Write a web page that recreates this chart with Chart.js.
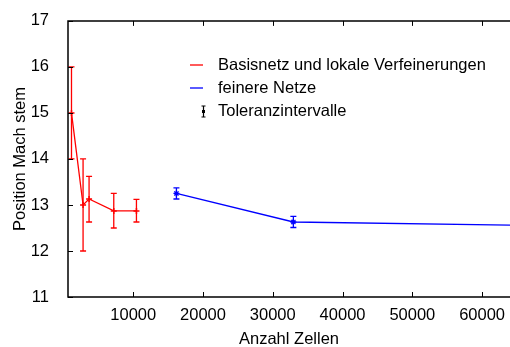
<!DOCTYPE html>
<html>
<head>
<meta charset="utf-8">
<script src="https://cdn.jsdelivr.net/npm/chart.js@4"></script>
<style>
  body { margin: 0; background: #fff; }
  canvas { display: block; }
</style>
</head>
<body>
<canvas id="zellenChart" width="510" height="347"></canvas>
<script>
// Basisnetz + lokale Verfeinerungen
const redCells = [1150, 2810, 3670, 7210, 10460];
const redPos = [15, 13, 13.13, 12.87, 12.87];
const redLo = [14, 12, 12.63, 12.5, 12.63];
const redHi = [16, 14, 13.62, 13.25, 13.12];

// feinere Netze (letzter Punkt ohne Intervall)
const blueCells = [16190, 32950, 64000];
const bluePos = [13.25, 12.63, 12.56];
const blueLo = [13.13, 12.51, null];
const blueHi = [13.37, 12.75, null];

const xTicks = [10000, 20000, 30000, 40000, 50000, 60000];
const yTicks = [11, 12, 13, 14, 15, 16, 17];

const legendItems = [
  { text: 'Basisnetz und lokale Verfeinerungen', color: '#ff0000', kind: 'line' },
  { text: 'feinere Netze', color: '#0000ff', kind: 'line' },
  { text: 'Toleranzintervalle', color: '#000000', kind: 'err' },
];

const FONT = '"Liberation Sans", Arial, sans-serif';
const FONT_SIZE = 16.5;

function toPoints(xs, ys) {
  return xs.map((x, i) => ({ x: x, y: ys[i] }));
}

// Fehlerbalken mit kleinen Kappen
const errorBars = {
  id: 'errorBars',
  afterDatasetsDraw(chart) {
    const { ctx, scales: { x, y } } = chart;
    ctx.save();
    chart.data.datasets.forEach((ds) => {
      if (!ds.errLo) return;
      ctx.strokeStyle = ds.borderColor;
      ctx.lineWidth = 1.3;
      ctx.beginPath();
      ds.data.forEach((p, j) => {
        if (ds.errLo[j] == null) return;
        const px = x.getPixelForValue(p.x);
        const top = y.getPixelForValue(ds.errHi[j]);
        const bot = y.getPixelForValue(ds.errLo[j]);
        ctx.moveTo(px, top);
        ctx.lineTo(px, bot);
        ctx.moveTo(px - 3, top);
        ctx.lineTo(px + 3, top);
        ctx.moveTo(px - 3, bot);
        ctx.lineTo(px + 3, bot);
      });
      ctx.stroke();
    });
    ctx.restore();
  },
};

// Rahmen oben/links/unten und nach innen zeigende Ticks
const frame = {
  id: 'frame',
  afterDraw(chart) {
    const { ctx, chartArea: a, scales: { x, y } } = chart;
    ctx.save();
    ctx.strokeStyle = '#000';
    ctx.lineWidth = 1.5;
    ctx.beginPath();
    ctx.moveTo(a.right, a.top);
    ctx.lineTo(a.left, a.top);
    ctx.lineTo(a.left, a.bottom);
    ctx.lineTo(a.right, a.bottom);
    ctx.stroke();

    ctx.lineWidth = 1;
    ctx.beginPath();
    x.ticks.forEach((t) => {
      const px = Math.round(x.getPixelForValue(t.value)) + 0.5;
      ctx.moveTo(px, a.bottom);
      ctx.lineTo(px, a.bottom - 5);
      ctx.moveTo(px, a.top);
      ctx.lineTo(px, a.top + 5);
    });
    y.ticks.forEach((t) => {
      const py = Math.round(y.getPixelForValue(t.value)) + 0.5;
      ctx.moveTo(a.left, py);
      ctx.lineTo(a.left + 5, py);
    });
    ctx.stroke();
    ctx.restore();
  },
};

// Legende innerhalb der Zeichenfläche
const plotLegend = {
  id: 'plotLegend',
  afterDraw(chart) {
    const { ctx } = chart;
    ctx.save();
    ctx.font = FONT_SIZE + 'px ' + FONT;
    ctx.textBaseline = 'middle';
    legendItems.forEach((item, i) => {
      const yy = 65 + i * 23;
      ctx.strokeStyle = item.color;
      ctx.fillStyle = item.color;
      ctx.beginPath();
      if (item.kind === 'line') {
        ctx.lineWidth = 1.3;
        ctx.moveTo(190, yy);
        ctx.lineTo(203, yy);
        ctx.stroke();
      } else {
        ctx.lineWidth = 1.2;
        ctx.moveTo(203.5, yy - 5);
        ctx.lineTo(203.5, yy + 6);
        ctx.moveTo(201.5, yy - 5);
        ctx.lineTo(205.5, yy - 5);
        ctx.moveTo(201.5, yy + 6);
        ctx.lineTo(205.5, yy + 6);
        ctx.stroke();
        ctx.fillRect(202, yy - 1, 3, 3);
      }
      ctx.fillStyle = '#000';
      ctx.fillText(item.text, 218, yy);
    });
    ctx.restore();
  },
};

new Chart('zellenChart', {
  type: 'line',
  data: {
    datasets: [
      {
        label: 'Basisnetz und lokale Verfeinerungen',
        data: toPoints(redCells, redPos),
        errLo: redLo,
        errHi: redHi,
        borderColor: '#ff0000',
        backgroundColor: '#ff0000',
        borderWidth: 1.3,
        pointStyle: 'cross',
        pointRadius: 3,
        pointBorderWidth: 1.5,
        tension: 0,
      },
      {
        label: 'feinere Netze',
        data: toPoints(blueCells, bluePos),
        errLo: blueLo,
        errHi: blueHi,
        borderColor: '#0000ff',
        backgroundColor: '#0000ff',
        borderWidth: 1.3,
        pointStyle: 'star',
        pointRadius: [3, 3, 0],
        pointBorderWidth: 1.3,
        tension: 0,
      },
    ],
  },
  options: {
    responsive: false,
    animation: false,
    layout: { autoPadding: false, padding: { top: 17, right: 0, left: 0, bottom: 0 } },
    plugins: {
      legend: { display: false },
      tooltip: { enabled: false },
    },
    scales: {
      x: {
        type: 'linear',
        min: 650,
        max: 64000,
        grid: { display: false },
        border: { display: false },
        afterBuildTicks: (scale) => {
          scale.ticks = xTicks.map((v) => ({ value: v }));
        },
        afterFit: (scale) => {
          scale.height = 50;
          scale.paddingLeft = 0;
          scale.paddingRight = 0;
        },
        ticks: {
          color: '#000',
          padding: 1,
          maxRotation: 0,
          font: { family: FONT, size: FONT_SIZE },
          callback: (v) => String(v),
        },
        title: {
          display: true,
          text: 'Anzahl Zellen',
          color: '#000',
          padding: { top: 0, bottom: -2 },
          font: { family: FONT, size: FONT_SIZE },
        },
      },
      y: {
        min: 11,
        max: 17,
        grid: { display: false },
        border: { display: false },
        afterBuildTicks: (scale) => {
          scale.ticks = yTicks.map((v) => ({ value: v }));
        },
        afterFit: (scale) => {
          scale.width = 68;
        },
        ticks: {
          color: '#000',
          padding: 11,
          font: { family: FONT, size: FONT_SIZE },
        },
        title: {
          display: true,
          text: 'Position Mach stem',
          color: '#000',
          padding: { top: 11, bottom: 0 },
          font: { family: FONT, size: FONT_SIZE },
        },
      },
    },
  },
  plugins: [errorBars, frame, plotLegend],
});
</script>
</body>
</html>
